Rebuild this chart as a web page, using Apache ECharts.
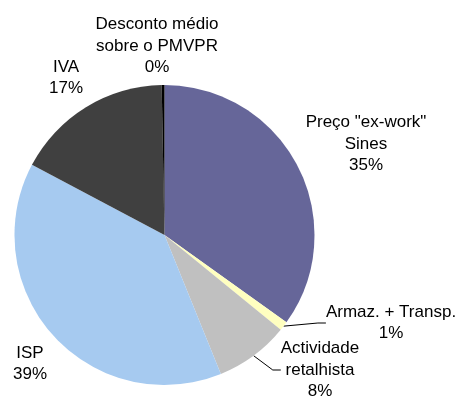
<!DOCTYPE html>
<html>
<head>
<meta charset="utf-8">
<script src="https://cdn.jsdelivr.net/npm/echarts@6/dist/echarts.min.js"></script>
<style>
  html, body { margin: 0; padding: 0; background: #ffffff; }
  #chart { width: 459px; height: 399px; }
</style>
</head>
<body>
<div id="chart"></div>
<script>
// Price breakdown (share of the retail price), clockwise from 12 o'clock
const categories = [
  'Preço "ex-work"\nSines',
  'Armaz. + Transp.',
  'Actividade\nretalhista',
  'ISP',
  'IVA',
  'Desconto médio\nsobre o PMVPR'
];
const shares = [35, 1, 8, 39, 17, 0.3];
const sliceColors = ['#666699', '#FFFFC0', '#C0C0C0', '#A6CAF0', '#404040', '#000000'];

// Label anchor points (pixel centres of each text block) and leader-line flags
const labelSpots = [
  [366, 144], [391, 323], [320, 370], [30, 364], [66, 78], [157, 46]
];
const withLeader = [false, true, true, false, false, false];

const chart = echarts.init(document.getElementById('chart'), null, { renderer: 'canvas' });

const data = categories.map((name, i) => ({
  name: name,
  value: shares[i],
  itemStyle: { color: sliceColors[i] },
  labelLine: { show: withLeader[i] }
}));

chart.setOption({
  animation: false,
  backgroundColor: '#ffffff',
  series: [{
    type: 'pie',
    center: [164.5, 235],
    radius: [0, 150],
    startAngle: 90,
    clockwise: true,
    percentPrecision: 0,
    avoidLabelOverlap: false,
    data: data,
    itemStyle: { borderWidth: 0 },
    emphasis: { disabled: true },
    label: {
      show: true,
      position: 'outside',
      formatter: '{b}\n{d}%',
      fontFamily: 'Liberation Sans, Arial, sans-serif',
      fontSize: 17,
      lineHeight: 21.5,
      color: '#000000',
      align: 'center'
    },
    labelLine: {
      show: false,
      length: 6,
      length2: 8,
      lineStyle: { color: '#000000', width: 1 }
    },
    labelLayout: function (params) {
      const p = labelSpots[params.dataIndex];
      return { x: p[0], y: p[1], align: 'center', verticalAlign: 'middle' };
    }
  }]
});
</script>
</body>
</html>
